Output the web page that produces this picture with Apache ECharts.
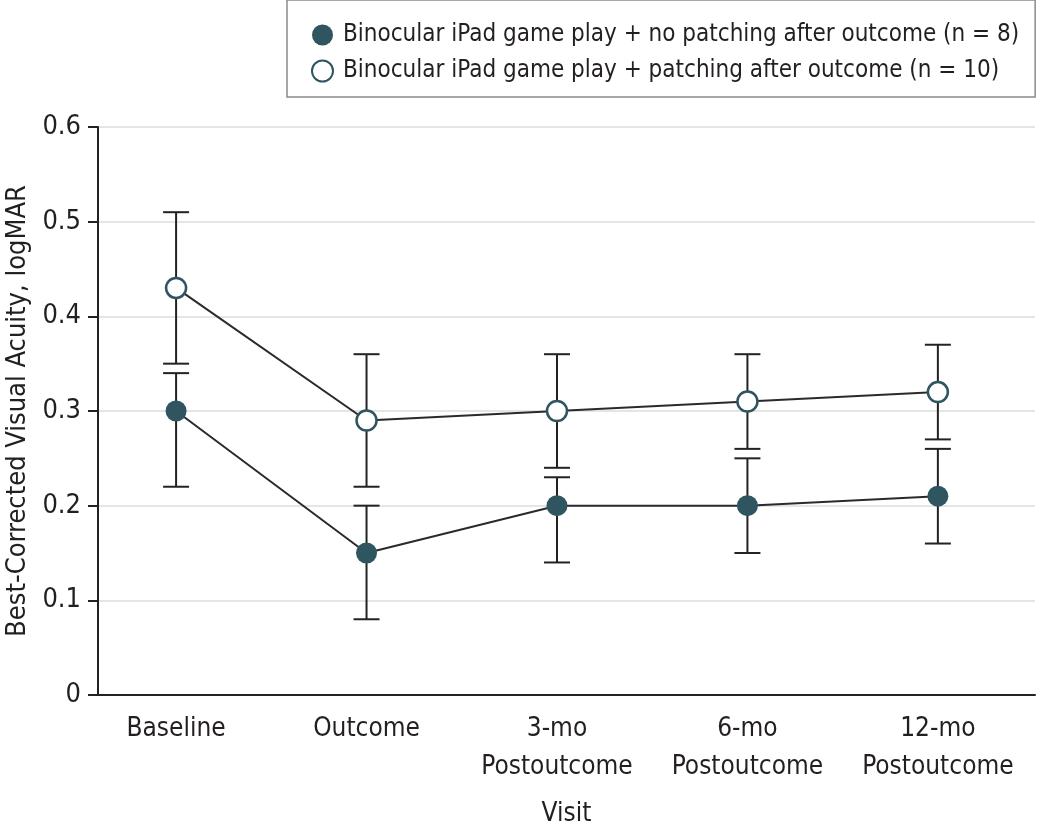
<!DOCTYPE html>
<html>
<head>
<meta charset="utf-8">
<script src="https://cdn.jsdelivr.net/npm/echarts@6/dist/echarts.min.js"></script>
<style>
html,body{margin:0;padding:0;background:#fff;}
#chart{width:1050px;height:826px;}
</style>
</head>
<body>
<div id="chart"></div>
<script>
const categories = ['Baseline', 'Outcome', '3-mo\nPostoutcome', '6-mo\nPostoutcome', '12-mo\nPostoutcome'];
const yTicks = [0, 0.1, 0.2, 0.3, 0.4, 0.5, 0.6];
const seriesNames = [
  'Binocular iPad game play + no patching after outcome (n = 8)',
  'Binocular iPad game play + patching after outcome (n = 10)'
];
const noPatchMean = [0.30, 0.15, 0.20, 0.20, 0.21];
const noPatchLow  = [0.22, 0.08, 0.14, 0.15, 0.16];
const noPatchHigh = [0.34, 0.20, 0.23, 0.25, 0.26];
const patchMean = [0.43, 0.29, 0.30, 0.31, 0.32];
const patchLow  = [0.35, 0.22, 0.24, 0.26, 0.27];
const patchHigh = [0.51, 0.36, 0.36, 0.36, 0.37];

const FONT = '"Liberation Sans Narrow", "DejaVu Sans Condensed", "Roboto", sans-serif';
const TEXT = '#231f20';
const MARK = '#2e5560';
const LINE = '#2a2a2a';

const idx = categories.map((c, i) => i);
const toPts = arr => arr.map((v, i) => [i, v]);
const errData = (lo, hi) => lo.map((v, i) => [i, v, hi[i]]);

function renderErr(params, api) {
  const x = api.value(0);
  const lo = api.coord([x, api.value(1)]);
  const hi = api.coord([x, api.value(2)]);
  const w = 13;
  const st = { stroke: '#222', lineWidth: 2 };
  return {
    type: 'group',
    children: [
      { type: 'line', shape: { x1: lo[0], y1: lo[1], x2: hi[0], y2: hi[1] }, style: st },
      { type: 'line', shape: { x1: lo[0] - w, y1: lo[1], x2: lo[0] + w, y2: lo[1] }, style: st },
      { type: 'line', shape: { x1: hi[0] - w, y1: hi[1], x2: hi[0] + w, y2: hi[1] }, style: st }
    ]
  };
}

const chart = echarts.init(document.getElementById('chart'), null, { renderer: 'canvas' });
chart.setOption({
  animation: false,
  backgroundColor: '#fff',
  textStyle: { fontFamily: FONT, color: TEXT },
  grid: { left: 98, right: 15, top: 127, bottom: 131, containLabel: false, outerBoundsMode: 'none' },
  legend: {
    orient: 'vertical',
    left: 287,
    top: 0,
    padding: [23, 16, 14, 24],
    borderColor: '#8a8a8a',
    borderWidth: 1.5,
    itemWidth: 21,
    itemHeight: 21,
    itemGap: 12,
    textStyle: { fontFamily: FONT, fontSize: 24, color: TEXT, padding: [0, 0, 0, 5] },
    data: [
      { name: seriesNames[0], icon: 'circle', itemStyle: { color: MARK, borderWidth: 0 } },
      { name: seriesNames[1], icon: 'circle', itemStyle: { color: '#fff', borderColor: MARK, borderWidth: 2 } }
    ]
  },
  xAxis: {
    type: 'value',
    min: -0.41,
    max: 4.51,
    name: 'Visit',
    nameLocation: 'middle',
    nameGap: 106,
    nameTextStyle: { fontFamily: FONT, fontSize: 26, color: TEXT },
    axisLine: { show: true, onZero: false, lineStyle: { color: '#222', width: 2 } },
    axisTick: { show: false },
    splitLine: { show: false },
    axisLabel: {
      customValues: idx,
      formatter: v => categories[Math.round(v)],
      fontFamily: FONT, fontSize: 26, color: TEXT,
      lineHeight: 38, margin: 15
    }
  },
  yAxis: {
    type: 'value',
    min: 0,
    max: 0.6,
    interval: 0.1,
    name: 'Best-Corrected Visual Acuity, logMAR',
    nameLocation: 'middle',
    nameGap: 67,
    nameTextStyle: { fontFamily: FONT, fontSize: 27, color: TEXT },
    axisLine: { show: true, onZero: false, lineStyle: { color: '#222', width: 2 } },
    axisTick: { show: true, length: 10, lineStyle: { color: '#222', width: 2 } },
    splitLine: { show: true, lineStyle: { color: '#dcdcdc', width: 1.5 } },
    axisLabel: {
      formatter: v => { const t = yTicks.find(k => Math.abs(k - v) < 1e-9); return t === 0 ? '0' : String(t); },
      fontFamily: FONT, fontSize: 27, color: TEXT, margin: 17
    }
  },
  series: [
    {
      type: 'custom', name: 'errNo', renderItem: renderErr, data: errData(noPatchLow, noPatchHigh), z: 1, silent: true
    },
    {
      type: 'custom', name: 'errPatch', renderItem: renderErr, data: errData(patchLow, patchHigh), z: 1, silent: true
    },
    {
      type: 'line', name: seriesNames[0], data: toPts(noPatchMean), z: 5,
      symbol: 'circle', symbolSize: 21,
      lineStyle: { color: LINE, width: 2 },
      itemStyle: { color: MARK, borderWidth: 0 }
    },
    {
      type: 'line', name: seriesNames[1], data: toPts(patchMean), z: 5,
      symbol: 'circle', symbolSize: 20,
      lineStyle: { color: LINE, width: 2 },
      itemStyle: { color: '#fff', borderColor: MARK, borderWidth: 2.5 }
    }
  ]
});
</script>
</body>
</html>
